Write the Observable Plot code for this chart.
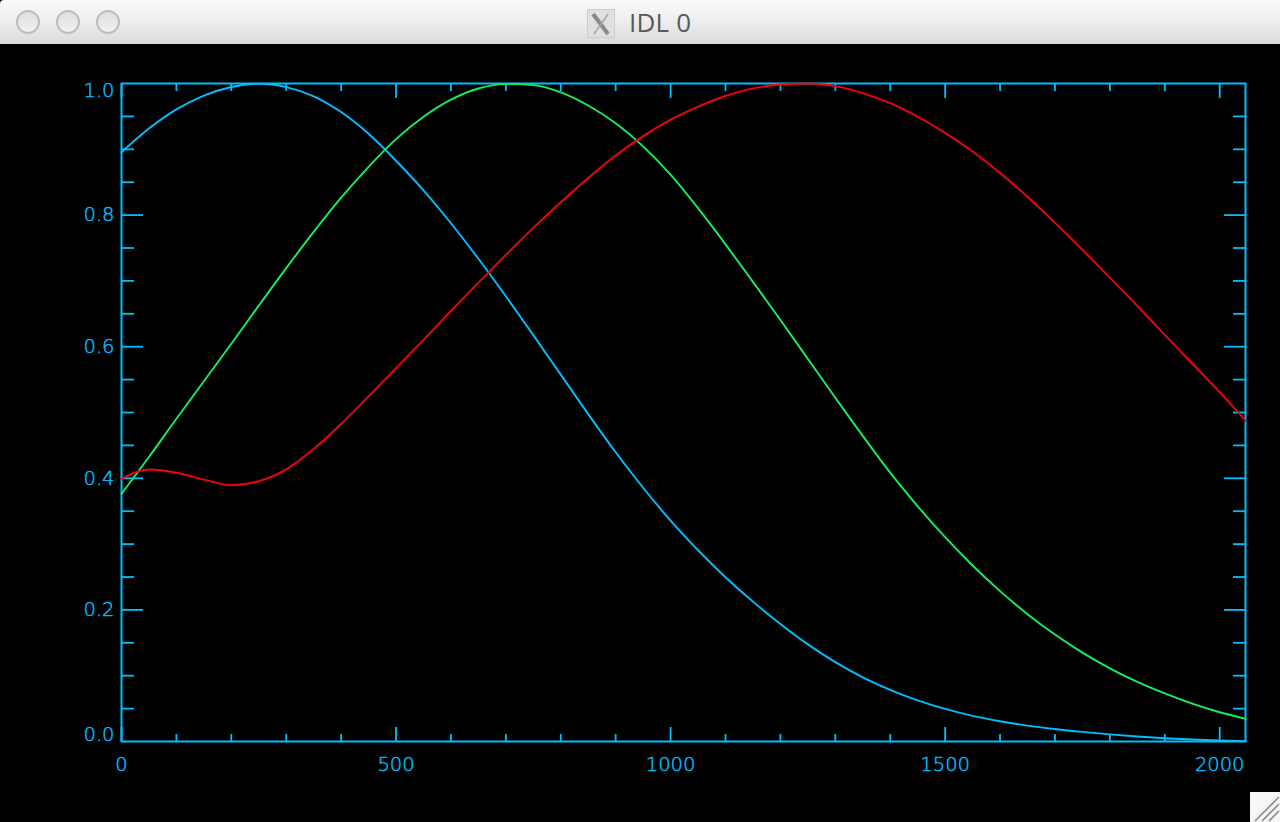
<!DOCTYPE html>
<html>
<head>
<meta charset="utf-8">
<script src="https://cdn.jsdelivr.net/npm/d3@7"></script>
<script src="https://cdn.jsdelivr.net/npm/@observablehq/plot@0.6"></script>
<style>
  html, body { margin: 0; padding: 0; background: #000; overflow: hidden; }
  #win { position: relative; width: 1280px; height: 822px; background: #000; }
  #bar { position: relative; height: 44px; background: linear-gradient(#fafafa, #ededed 50%, #dadada); border-top-left-radius: 4px; }
  .dot { position: absolute; top: 10px; width: 20px; height: 20px; border: 2px solid #bdbdbd; border-radius: 50%;
         background: linear-gradient(#dedede, #f2f2f2); }
  #icon { position: absolute; left: 587px; top: 9px; width: 28px; height: 29px; }
  #title { position: absolute; left: 629px; top: 6px; font: 26px "Open Sans", sans-serif; letter-spacing: .2px; color: #5a5a5a; line-height: 32px; }
  #chart svg { display: block; }
  #grip { position: absolute; left: 1250px; top: 792px; width: 30px; height: 30px; background: #f6f6f6; }
</style>
</head>
<body>
<div id="win">
  <div id="bar">
    <div class="dot" style="left:16px"></div>
    <div class="dot" style="left:56px"></div>
    <div class="dot" style="left:96px"></div>
    <svg id="icon" viewBox="0 0 28 29">
      <rect x="0.5" y="0.5" width="27" height="28" fill="#e0e0e0" stroke="#cccccc"/>
      <path d="M6 5 L21 25" stroke="#8a8a8a" stroke-width="4"/>
      <path d="M21 5 L7 25" stroke="#a8a8a8" stroke-width="1.6"/>
    </svg>
    <div id="title">IDL 0</div>
  </div>
  <div id="chart"></div>
  <svg id="grip" viewBox="0 0 30 30">
    <path d="M5 29 L29 5 M12 29 L29 12 M19 29 L29 19" stroke="#8e8e8e" stroke-width="1.6"/>
  </svg>
</div>
<script>
const sampleX = [0,50,100,150,200,250,300,350,400,450,500,550,600,650,700,750,800,850,900,950,1000,
  1050,1100,1150,1200,1250,1300,1350,1400,1450,1500,1550,1600,1650,1700,1750,1800,1850,1900,1950,2000,2047];
const blueSeries = [.8956,.9316,.9606,.9816,.9946,.9996,.9946,.9806,.9566,.9236,.8826,.8376,.7876,.7336,.6766,.6176,.5576,.4976,.4396,.3856,.3356,
  .2906,.2496,.2126,.1786,.1476,.1206,.0975,.0785,.0625,.0495,.039,.0308,.0242,.019,.0146,.0108,.0076,.005,.003,.0015,.0006];
const greenSeries = [.3764,.4324,.4904,.5474,.6044,.6624,.7194,.7744,.8264,.8734,.9154,.9494,.9754,.9924,.9995,.9975,.9865,.9665,.9395,.9045,.8615,
  .8105,.7555,.6985,.6405,.5815,.5225,.4645,.4085,.3575,.3105,.2675,.2285,.1935,.1625,.1350,.1112,.0905,.073,.0575,.0445,.0345];
const redSeries = [.3992,.4134,.4085,.398,.3895,.3955,.4135,.4445,.4825,.5245,.5675,.6105,.6545,.6975,.7395,.7805,.8195,.8565,.8905,.92,.945,
  .965,.981,.9925,.9985,1.0,.996,.9855,.97,.9495,.925,.8965,.864,.828,.7885,.7475,.705,.662,.618,.5745,.531,.4878];

const xMajor = [0,500,1000,1500,2000];
const xMinor = [100,200,300,400,600,700,800,900,1100,1200,1300,1400,1600,1700,1800,1900];
const yMajor = [0.2,0.4,0.6,0.8];
const yMinor = [0.05,0.1,0.15,0.25,0.3,0.35,0.45,0.5,0.55,0.65,0.7,0.75,0.85,0.9,0.95];
const yEdgeLow = [0];
const yEdgeHigh = [1];

const AXIS = "#00bfff", GREEN = "#14f05c", RED = "#f40010";
const blank = () => "";
const labelStyle = {fill: AXIS, stroke: AXIS, strokeWidth: 0.45, fontSize: 19.5, fontWeight: 200, fontFamily: "'DejaVu Sans', sans-serif"};
const tickStyle = {stroke: AXIS, strokeWidth: 1.8, strokeOpacity: 1, label: null, tickFormat: blank};

const series = (values, color) => Plot.line(sampleX, {
  x: d => d, y: (d, i) => values[i], stroke: color, strokeWidth: 1.9, curve: "monotone-x"
});
const yLabel = (values, dy) => Plot.text(values, {
  y: d => d, text: d => d.toFixed(1), frameAnchor: "left", textAnchor: "end", dx: -7, dy, ...labelStyle
});

const chart = Plot.plot({
  width: 1280, height: 778,
  marginLeft: 121, marginRight: 35, marginTop: 39, marginBottom: 81,
  style: {background: "#000", color: AXIS, overflow: "visible"},
  x: {domain: [0, 2047], label: null},
  y: {domain: [0, 1], label: null},
  marks: [
    Plot.axisX(xMajor, {anchor: "bottom", tickSize: -14, ...tickStyle}),
    Plot.axisX(xMinor, {anchor: "bottom", tickSize: -7, ...tickStyle}),
    Plot.axisX(xMajor, {anchor: "top", tickSize: -14, ...tickStyle}),
    Plot.axisX(xMinor, {anchor: "top", tickSize: -7, ...tickStyle}),
    Plot.axisY(yMajor, {anchor: "left", tickSize: -22, ...tickStyle}),
    Plot.axisY(yMinor, {anchor: "left", tickSize: -13, ...tickStyle}),
    Plot.axisY(yMajor, {anchor: "right", tickSize: -22, ...tickStyle}),
    Plot.axisY(yMinor, {anchor: "right", tickSize: -13, ...tickStyle}),
    Plot.text(xMajor, {x: d => d, text: d => String(d), frameAnchor: "bottom", lineAnchor: "middle", dy: 23, ...labelStyle}),
    yLabel(yMajor, 0),
    yLabel(yEdgeLow, -7),
    yLabel(yEdgeHigh, 7),
    Plot.frame({stroke: AXIS, strokeWidth: 2}),
    series(blueSeries, AXIS),
    series(greenSeries, GREEN),
    series(redSeries, RED)
  ]
});
document.getElementById("chart").appendChild(chart);
</script>
</body>
</html>
